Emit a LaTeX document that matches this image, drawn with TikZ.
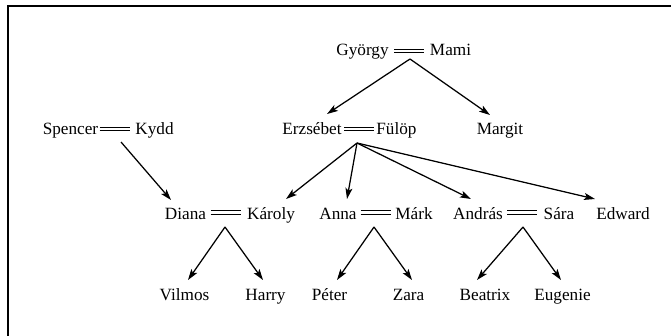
\documentclass[tikz,border=0pt]{standalone}
\usepackage{fontspec}
\setmainfont{Liberation Serif}
\usetikzlibrary{arrows.meta}
\begin{document}
\begin{tikzpicture}[x=1pt,y=-1pt,
  person/.style={anchor=base, inner sep=0pt, font=\fontsize{17.2}{20}\selectfont},
  wed/.style={line width=1.1pt},
  child/.style={-{Stealth[length=11pt,width=7pt,inset=2.5pt]}, line width=1.25pt},
  frame/.style={line width=1.7pt}]
\useasboundingbox (0,0) rectangle (671,335);

% open frame: only the top and left edges are visible
\draw[frame] (8,340) -- (8,5.8) -- (676,5.8);

% generation 1
\node[person] (gyorgy) at (362.5,55) {György};
\node[person] (mami)   at (450.5,55) {Mami};

% generation 2
\node[person] (spencer)  at (70.5,134)  {Spencer};
\node[person] (kydd)     at (154.5,134) {Kydd};
\node[person] (erzsebet) at (312,134)   {Erzsébet};
\node[person] (fulop)    at (396.5,134) {Fülöp};
\node[person] (margit)   at (500,134)   {Margit};

% generation 3
\node[person] (diana)  at (185.5,219) {Diana};
\node[person] (karoly) at (271,219)   {Károly};
\node[person] (anna)   at (338,219)   {Anna};
\node[person] (mark)   at (414,219)   {Márk};
\node[person] (andras) at (478,219)   {András};
\node[person] (sara)   at (559,219)   {Sára};
\node[person] (edward) at (623,219)   {Edward};

% generation 4
\node[person] (vilmos)  at (184.5,300) {Vilmos};
\node[person] (harry)   at (265.5,300) {Harry};
\node[person] (peter)   at (329.5,300) {Péter};
\node[person] (zara)    at (408.5,300) {Zara};
\node[person] (beatrix) at (485,300)   {Beatrix};
\node[person] (eugenie) at (562.5,300) {Eugenie};

% marriage bars (two parallel strokes)
\coordinate (w-gm) at (409,51);
\coordinate (w-sk) at (114.5,129);
\coordinate (w-ef) at (359,129);
\coordinate (w-dk) at (225.5,212.5);
\coordinate (w-am) at (375.5,212.5);
\coordinate (w-as) at (522,212.5);
\foreach \w in {w-gm,w-sk,w-ef,w-dk,w-am,w-as}{
  \draw[wed] ([shift={(-15,-1.7)}]\w) -- ([shift={(15,-1.7)}]\w);
  \draw[wed] ([shift={(-15,1.7)}]\w) -- ([shift={(15,1.7)}]\w);
}

% family points where the descent arrows start
\coordinate (f-gm) at (410,59);
\coordinate (f-sk) at (121,142);
\coordinate (f-ef) at (357,143);
\coordinate (f-dk) at (225,227);
\coordinate (f-am) at (374,227);
\coordinate (f-as) at (523,227);

% arrow tips above each child
\coordinate (t-erzsebet) at (327,114);
\coordinate (t-margit)   at (490,115);
\coordinate (t-diana)    at (171,200);
\coordinate (t-karoly)   at (286,199);
\coordinate (t-anna)     at (347,199);
\coordinate (t-andras)   at (471,199);
\coordinate (t-edward)   at (595,199);
\coordinate (t-vilmos)   at (188,280);
\coordinate (t-harry)    at (263,280);
\coordinate (t-peter)    at (337,280);
\coordinate (t-zara)     at (412,280);
\coordinate (t-beatrix)  at (477,280);
\coordinate (t-eugenie)  at (561,280);

% descent arrows
\draw[child] (f-gm) -- (t-erzsebet);
\draw[child] (f-gm) -- (t-margit);
\draw[child] (f-sk) -- (t-diana);
\draw[child] (f-ef) -- (t-karoly);
\draw[child] (f-ef) -- (t-anna);
\draw[child] (f-ef) -- (t-andras);
\draw[child] (f-ef) -- (t-edward);
\draw[child] (f-dk) -- (t-vilmos);
\draw[child] (f-dk) -- (t-harry);
\draw[child] (f-am) -- (t-peter);
\draw[child] (f-am) -- (t-zara);
\draw[child] (f-as) -- (t-beatrix);
\draw[child] (f-as) -- (t-eugenie);
\end{tikzpicture}
\end{document}
